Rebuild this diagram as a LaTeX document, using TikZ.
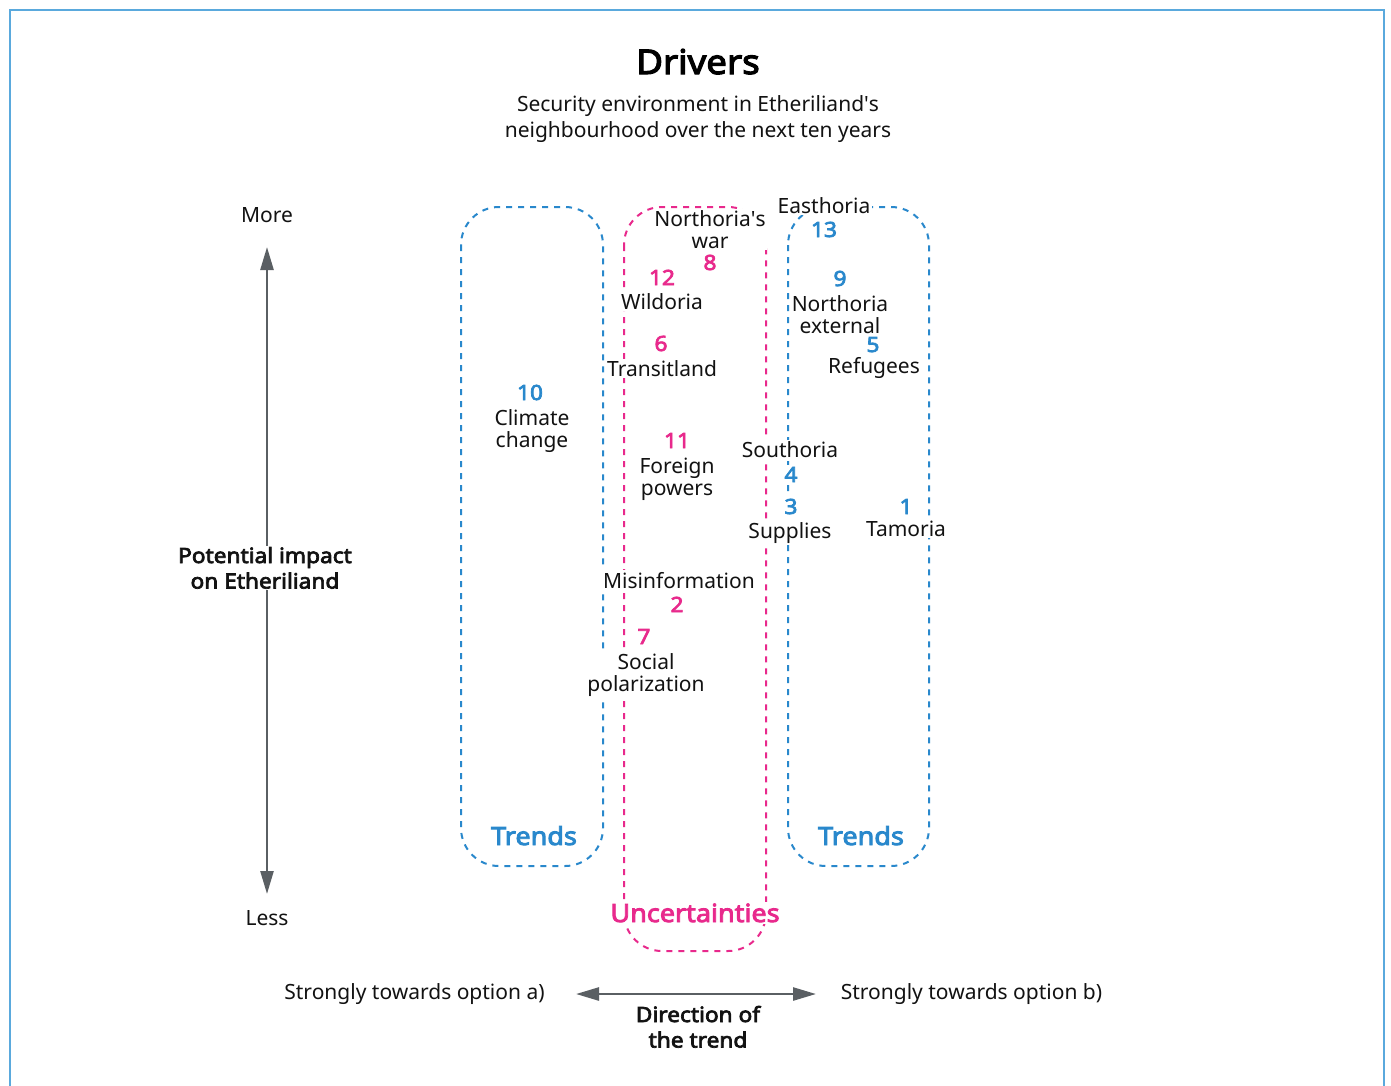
\documentclass[tikz,border=0pt]{standalone}
\usepackage{fontspec}
\setmainfont{Noto Sans}[BoldFont={Noto Sans}, BoldFeatures={FakeBold=3.4, FakeStretch=1.08}]
\usetikzlibrary{arrows.meta}
\definecolor{tblue}{HTML}{2988CC}
\definecolor{tmag}{HTML}{E8298C}
\definecolor{frameblue}{HTML}{5AA9DD}
\definecolor{txt}{HTML}{121212}
\definecolor{arrowgray}{HTML}{5A5F63}
\tikzset{
  lbl/.style={anchor=base, align=center, text=txt, fill=white, inner sep=1.5pt,
    font=\fontsize{21}{22}\selectfont},
  numb/.style={lbl, text=tblue, font=\fontsize{21}{22}\selectfont\bfseries},
  numm/.style={lbl, text=tmag, font=\fontsize{21}{22}\selectfont\bfseries},
  axislbl/.style={anchor=base, align=center, text=txt, inner sep=1.5pt,
    font=\fontsize{21}{26}\selectfont},
  boldlbl/.style={axislbl, fill=white, font=\fontsize{21}{25.5}\selectfont\bfseries},
  groupbox/.style={dashed, dash pattern=on 6pt off 6pt, line width=2pt, rounded corners=38pt},
  grouptitle/.style={anchor=base, fill=white, inner sep=1.5pt, font=\fontsize{25}{28}\selectfont\bfseries},
  axisarrow/.style={line width=2.5pt, draw=arrowgray, {Triangle[length=23pt,width=13pt]}-{Triangle[length=23pt,width=13pt]}},
}
\begin{document}
\begin{tikzpicture}[x=1pt, y=-1pt]
\useasboundingbox (0,0) rectangle (1391,1085);
\fill[white] (0,0) rectangle (1391,1085);
\draw[frameblue, line width=2pt] (9.5,1100) -- (9.5,9.5) -- (1384,9.5) -- (1384,1100);

% title
\node[anchor=base, text=black, font=\fontsize{34}{36}\selectfont\bfseries] (title) at (698,74) {Drivers};
\node[axislbl] (subtitle) at (698,137) {Security environment in Etheriliand\textquotesingle s\\neighbourhood over the next ten years};

% group boxes
\draw[groupbox, tblue] (461,207) rectangle (603,866);
\draw[groupbox, tmag] (624,207) rectangle (766,951);
\draw[groupbox, tblue] (788,207) rectangle (929,866);
\node[grouptitle, text=tblue] (trendsL) at (534,845) {Trends};
\node[grouptitle, text=tblue] (trendsR) at (861,845) {Trends};
\node[grouptitle, text=tmag] (uncert) at (695,922) {Uncertainties};

% vertical axis
\node[axislbl] (more) at (267,222) {More};
\node[axislbl] (less) at (267,925) {Less};
\coordinate (vtop) at (267,247);
\coordinate (vbot) at (267,894);
\draw[axisarrow] (vtop) -- (vbot);
\node[boldlbl] (impact) at (265,588.5) {Potential impact\\on Etheriliand};

% horizontal axis
\node[axislbl] (opta) at (414.5,999) {Strongly towards option a)};
\node[axislbl] (optb) at (971.5,999) {Strongly towards option b)};
\coordinate (hl) at (576,994);
\coordinate (hr) at (816,994);
\draw[axisarrow] (hl) -- (hr);
\node[boldlbl, fill=none] (direction) at (698,1047.5) {Direction of\\the trend};

% items
\node[lbl] (t8) at (710,248) {Northoria\textquotesingle s\\war};
\node[numm] (n8) at (710,270) {8};
\node[numm] (n12) at (662,285) {12};
\node[lbl] (t12) at (662,309) {Wildoria};
\node[numm] (n6) at (661,351) {6};
\node[lbl] (t6) at (662,376) {Transitland};
\node[numb] (n10) at (530,400) {10};
\node[lbl] (t10) at (532,447) {Climate\\change};
\node[numm] (n11) at (677,448) {11};
\node[lbl] (t11) at (677,495) {Foreign\\powers};
\node[lbl] (t13) at (824,213) {Easthoria};
\node[numb] (n13) at (824,237) {13};
\node[numb] (n9) at (840,286) {9};
\node[lbl] (t9) at (840,333) {Northoria\\external};
\node[numb] (n5) at (873,352) {5};
\node[lbl] (t5) at (874,373) {Refugees};
\node[lbl] (t4) at (790,457) {Southoria};
\node[numb] (n4) at (791,482) {4};
\node[numb] (n3) at (791,514) {3};
\node[lbl] (t3) at (790,538) {Supplies};
\node[numb] (n1) at (906,514) {1};
\node[lbl] (t1) at (906,536) {Tamoria};
\node[lbl] (t2) at (679,588) {Misinformation};
\node[numm] (n2) at (677,612) {2};
\node[numm] (n7) at (644,644) {7};
\node[lbl] (t7) at (646,691) {Social\\polarization};
\end{tikzpicture}
\end{document}
